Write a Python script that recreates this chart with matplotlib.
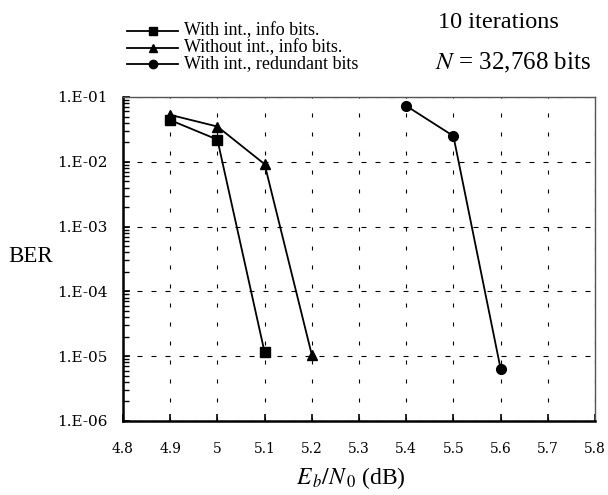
import matplotlib
matplotlib.use("Agg")
import matplotlib.pyplot as plt
from matplotlib.ticker import LogLocator, NullFormatter
from matplotlib.lines import Line2D

# Data
x_sq = [4.9, 5.0, 5.1]
ber_sq = [0.044, 0.022, 1.15e-5]
x_tri = [4.9, 5.0, 5.1, 5.2]
ber_tri = [0.053, 0.035, 0.0092, 1.05e-5]
x_circ = [5.4, 5.5, 5.6]
ber_circ = [0.073, 0.025, 6.4e-6]
labels = ["With int., info bits.", "Without int., info bits.", "With int., redundant bits"]
markers = ['s', '^', 'o']
xticks = [4.8, 4.9, 5.0, 5.1, 5.2, 5.3, 5.4, 5.5, 5.6, 5.7, 5.8]
xticklabels = ["4.8", "4.9", "5", "5.1", "5.2", "5.3", "5.4", "5.5", "5.6", "5.7", "5.8"]
yticks = [1e-6, 1e-5, 1e-4, 1e-3, 1e-2, 1e-1]
yticklabels = ["1.E-06", "1.E-05", "1.E-04", "1.E-03", "1.E-02", "1.E-01"]

plt.rcParams['mathtext.fontset'] = 'stix'

W, H = 608, 495
fig = plt.figure(figsize=(W/100, H/100), dpi=100)
ax = fig.add_axes([123/W, 1-421/H, (595-123)/W, (421-97)/H])

for xs, ys, m in [(x_sq, ber_sq, 's'), (x_tri, ber_tri, '^'), (x_circ, ber_circ, 'o')]:
    ax.plot(xs, ys, color='black', lw=1.3, marker=m, ms=7, zorder=3)

ax.set_yscale('log')
ax.set_ylim(1e-6, 1e-1)
ax.set_xlim(4.8, 5.8)
ax.set_xticks(xticks)
ax.set_xticklabels(xticklabels, family='DejaVu Serif', fontsize=10)
ax.set_yticks(yticks)
ax.set_yticklabels(yticklabels, family='DejaVu Serif', fontsize=11)
ax.yaxis.set_minor_locator(LogLocator(base=10, subs=range(2, 10), numticks=20))
ax.yaxis.set_minor_formatter(NullFormatter())

ax.tick_params(axis='x', which='major', direction='in', length=5, width=1.2, color='black', pad=15)
ax.tick_params(axis='y', which='major', direction='in', length=5, width=1.2, color='black', pad=11)
ax.tick_params(axis='y', which='minor', direction='in', length=4, width=1.0)
ax.tick_params(top=False, right=False)

ax.xaxis.grid(True, which='major', linestyle=(0, (3.6, 13.5)), color='black', lw=0.8)
ax.yaxis.grid(True, which='major', linestyle=(0, (4.5, 8.1)), color='black', lw=0.8)

for s in ['left', 'bottom']:
    ax.spines[s].set_linewidth(1.8)
    ax.spines[s].set_color('black')
for s in ['top', 'right']:
    ax.spines[s].set_linewidth(1.0)
    ax.spines[s].set_color('#555555')

ax.set_xlabel(r"$E_{\,b}/N_{\,0}$ (dB)", fontsize=17, family='Liberation Serif')
ax.xaxis.set_label_coords((351-123)/(595-123), -(478-421)/(421-97))
ax.xaxis.label.set_va('center')
fig.text(8/W, 1-256/H, "BER", fontsize=16.5, family='Liberation Serif', va='center', ha='left')

# Manual legend (rows drawn in figure pixel positions)
row_y = [31, 47.5, 64]
for yy, m, lab in zip(row_y, markers, labels):
    fig.add_artist(Line2D([127/W, 178/W], [1-yy/H, 1-yy/H], color='black', lw=1.3,
                          transform=fig.transFigure))
    fig.add_artist(Line2D([152.5/W], [1-yy/H], color='black', marker=m, ms=6, lw=0,
                          transform=fig.transFigure))
    fig.text(184/W, 1-(yy+4.5)/H, lab, fontsize=13, family='Liberation Serif', va='baseline')

fig.text(438/W, 1-28/H, "10 iterations", fontsize=17.5, family='Liberation Serif', va='baseline')
fig.text(435/W, 1-69/H, r"$N$ = 32,768 bits", fontsize=18, family='Liberation Serif', va='baseline')

fig.savefig("out.png", dpi=100)
